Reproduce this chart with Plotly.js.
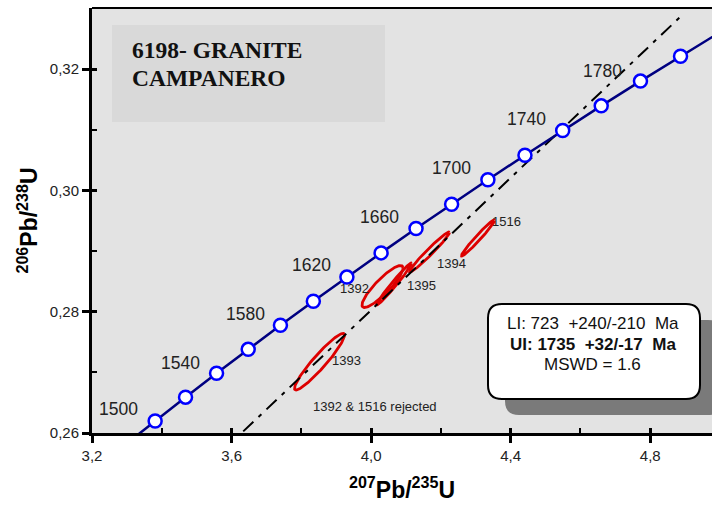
<!DOCTYPE html>
<html><head><meta charset="utf-8">
<script src="https://cdn.plot.ly/plotly-3.0.1.min.js"></script>
<style>body{margin:0;background:#fff}#chart{width:712px;height:507px}</style>
</head><body><div id="chart"></div>
<script>
// Concordia ages (Ma) and ratios
const ages  = [1480,1500,1520,1540,1560,1580,1600,1620,1640,1660,1680,1700,1720,1740,1760,1780,1800,1820];
const concX = [3.2955,3.3810,3.4681,3.5570,3.6477,3.7401,3.8344,3.9306,4.0286,4.1287,4.2307,4.3347,4.4409,4.5491,4.6595,4.7720,4.8868,5.0040];
const concY = [0.25809,0.26199,0.26591,0.26984,0.27379,0.27775,0.28172,0.28570,0.28969,0.29370,0.29772,0.30175,0.30580,0.30986,0.31393,0.31801,0.32211,0.32621];
const markerAges = [1500,1520,1540,1560,1580,1600,1620,1640,1660,1680,1700,1720,1740,1760,1780,1800];

// Age labels on concordia
const ageLabels = ['1500','1540','1580','1620','1660','1700','1740','1780'];
const ageLblX = [3.2760,3.4537,3.6400,3.8291,4.0240,4.2304,4.4453,4.6632];
const ageLblY = [0.26396,0.27154,0.27961,0.28769,0.29560,0.30368,0.31176,0.31967];

// Discordia (lower intercept -> upper end)
const discX = [1.0382, 4.888];
const discY = [0.11869, 0.3287];

// Error ellipses: centre, 2-sigma half extents, correlation
const ellNames = ['1393','1392','1395','1394','1516'];
const ellCX  = [3.8520, 4.0326, 4.0656, 4.1673, 4.3063];
const ellCY  = [0.27175,0.28415,0.28456,0.28983,0.29214];
const ellSX  = [0.0717, 0.0588, 0.0502, 0.0573, 0.0473];
const ellSY  = [0.00466,0.00346,0.00346,0.00330,0.00297];
const ellRho = [0.94, 0.88, 0.983, 0.977, 0.978];

// Spot labels
const spotLabels = ['1392','1393','1395','1394','1516'];
const spotX = [3.9524,3.9294,4.1444,4.2304,4.3880];
const spotY = [0.28390,0.27187,0.28439,0.28802,0.29494];

const xTicks = [3.2,3.6,4.0,4.4,4.8];
const xMinor = [3.4,3.8,4.2,4.6];
const yTicks = [0.26,0.28,0.30,0.32];
const yMinor = [0.27,0.29,0.31];

const traces = [];
// ellipses
for (let i=0;i<ellNames.length;i++){
  const xs=[],ys=[];
  const s=Math.sqrt(1-ellRho[i]*ellRho[i]);
  for(let k=0;k<=120;k++){
    const t=2*Math.PI*k/120;
    xs.push(ellCX[i]+ellSX[i]*Math.cos(t));
    ys.push(ellCY[i]+ellSY[i]*(ellRho[i]*Math.cos(t)+s*Math.sin(t)));
  }
  traces.push({x:xs,y:ys,mode:'lines',line:{color:'#dd0000',width:2.8},hoverinfo:'skip',name:ellNames[i]});
}
// discordia
traces.push({x:discX,y:discY,mode:'lines',line:{color:'#000',width:2,dash:'14px,7px,4px,7px'},hoverinfo:'skip'});
// concordia line
traces.push({x:concX,y:concY,mode:'lines',line:{color:'#000080',width:2.5},hoverinfo:'skip'});
// concordia markers
const mX=[],mY=[];
markerAges.forEach(a=>{const j=ages.indexOf(a);mX.push(concX[j]);mY.push(concY[j]);});
traces.push({x:mX,y:mY,mode:'markers',marker:{symbol:'circle',size:13,color:'#fff',line:{color:'#0000ff',width:2.5}},text:markerAges,hoverinfo:'text'});
// dummy trace for overlay axes (inside major ticks)
traces.push({x:[3.2],y:[0.26],xaxis:'x2',yaxis:'y2',mode:'markers',marker:{opacity:0},hoverinfo:'skip'});

const PL=92, PW=620, PT=8, PH=425;
const X=px=>((px-PL)/PW).toFixed(5);
const Y=py=>((PT+PH-py)/PH).toFixed(5);
function rr(x0,y0,x1,y1,r){
  return `M${X(x0+r)},${Y(y0)} L${X(x1-r)},${Y(y0)} Q${X(x1)},${Y(y0)} ${X(x1)},${Y(y0+r)} L${X(x1)},${Y(y1-r)} Q${X(x1)},${Y(y1)} ${X(x1-r)},${Y(y1)} L${X(x0+r)},${Y(y1)} Q${X(x0)},${Y(y1)} ${X(x0)},${Y(y1-r)} L${X(x0)},${Y(y0+r)} Q${X(x0)},${Y(y0)} ${X(x0+r)},${Y(y0)} Z`;
}

const shapes = [
  {type:'rect',xref:'paper',yref:'paper',x0:X(112),x1:X(385),y0:Y(122),y1:Y(25),fillcolor:'#d9d9d9',line:{width:0},layer:'above'},
  {type:'path',xref:'paper',yref:'paper',path:rr(505,320,722,415,14),fillcolor:'#7a7a7a',line:{width:0}},
  {type:'path',xref:'paper',yref:'paper',path:rr(488,304,700,399,14),fillcolor:'#ffffff',line:{color:'#000',width:2}},
  {type:'line',xref:'paper',yref:'paper',x0:0,x1:1,y0:1,y1:1,line:{color:'#000',width:2}}
];

const annotations = [];
ageLabels.forEach((t,i)=>annotations.push({x:ageLblX[i],y:ageLblY[i],xref:'x',yref:'y',text:t,showarrow:false,xanchor:'center',yanchor:'middle',font:{size:17.5,color:'#222',family:'Liberation Sans, Arial, sans-serif'}}));
spotLabels.forEach((t,i)=>annotations.push({x:spotX[i],y:spotY[i],xref:'x',yref:'y',text:t,showarrow:false,xanchor:'center',yanchor:'middle',font:{size:13,color:'#222',family:'Liberation Sans Narrow, Arial Narrow, Liberation Sans, Arial, sans-serif'}}));
annotations.push({x:4.0097,y:0.26429,xref:'x',yref:'y',text:'1392 &amp; 1516 rejected',showarrow:false,xanchor:'center',yanchor:'middle',font:{size:13,color:'#222'}});
annotations.push({x:X(130),y:Y(50),xref:'paper',yref:'paper',text:'<b>6198- GRANITE</b>',showarrow:false,xanchor:'left',yanchor:'middle',font:{size:23.5,color:'#111',family:'Liberation Serif, Times New Roman, serif'}});
annotations.push({x:X(130),y:Y(78),xref:'paper',yref:'paper',text:'<b>CAMPANERO</b>',showarrow:false,xanchor:'left',yanchor:'middle',font:{size:23.5,color:'#111',family:'Liberation Serif, Times New Roman, serif'}});
annotations.push({x:X(593),y:Y(323),xref:'paper',yref:'paper',text:'LI: 723&nbsp; +240/-210&nbsp; Ma',showarrow:false,xanchor:'center',yanchor:'middle',font:{size:17,color:'#111'}});
annotations.push({x:X(593),y:Y(344),xref:'paper',yref:'paper',text:'<b>UI: 1735&nbsp; +32/-17&nbsp; Ma</b>',showarrow:false,xanchor:'center',yanchor:'middle',font:{size:17,color:'#111'}});
annotations.push({x:X(593),y:Y(364),xref:'paper',yref:'paper',text:'MSWD = 1.6',showarrow:false,xanchor:'center',yanchor:'middle',font:{size:17,color:'#111'}});

const layout = {
  width:712,height:507,
  margin:{l:PL,r:712-PL-PW,t:PT,b:507-PT-PH,pad:0},
  paper_bgcolor:'#ffffff',plot_bgcolor:'#e3e3e3',
  separators:',.',showlegend:false,
  font:{family:'Liberation Sans, Arial, sans-serif',color:'#222',size:15},
  xaxis:{range:[3.2,4.977],tickmode:'array',tickvals:xTicks,tickformat:'.1f',ticks:'outside',ticklen:7,tickwidth:3,tickcolor:'#000',
    showline:true,linewidth:3,linecolor:'#000',showgrid:false,zeroline:false,automargin:false,
    minor:{tickmode:'array',tickvals:xMinor,ticks:'inside',ticklen:5,tickwidth:2,tickcolor:'#000',showgrid:false},
    title:{text:'<b><sup>207</sup>Pb/<sup>235</sup>U</b>',font:{size:23,color:'#000'},standoff:19}},
  yaxis:{range:[0.26,0.33006],tickmode:'array',tickvals:yTicks,tickformat:'.2f',ticks:'outside',ticklen:7,tickwidth:3,tickcolor:'#000',
    showline:true,linewidth:3,linecolor:'#000',showgrid:false,zeroline:false,automargin:false,
    minor:{tickmode:'array',tickvals:yMinor,ticks:'inside',ticklen:5,tickwidth:2,tickcolor:'#000',showgrid:false},
    title:{text:'<b><sup>206</sup>Pb/<sup>238</sup>U</b>',font:{size:23,color:'#000'},standoff:6}},
  xaxis2:{overlaying:'x',matches:'x',anchor:'y2',side:'bottom',tickmode:'array',tickvals:xTicks,ticks:'inside',ticklen:5,tickwidth:3,tickcolor:'#000',showticklabels:false,showgrid:false,zeroline:false,showline:false},
  yaxis2:{overlaying:'y',matches:'y',anchor:'x2',side:'left',tickmode:'array',tickvals:yTicks,ticks:'inside',ticklen:5,tickwidth:3,tickcolor:'#000',showticklabels:false,showgrid:false,zeroline:false,showline:false},
  shapes:shapes,annotations:annotations
};
Plotly.newPlot('chart',traces,layout,{displayModeBar:false,staticPlot:true});
</script></body></html>
